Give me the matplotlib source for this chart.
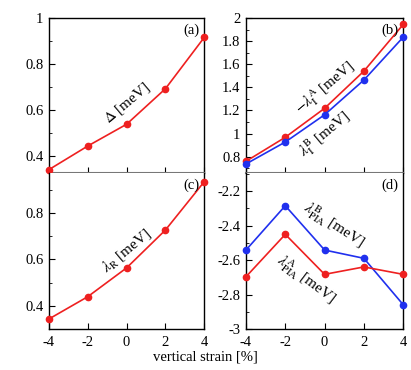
import numpy as np
import matplotlib
matplotlib.use("Agg")
import matplotlib.pyplot as plt
from matplotlib.ticker import MultipleLocator, FuncFormatter

plt.rcParams['font.family'] = ['Liberation Serif', 'DejaVu Serif']
plt.rcParams['mathtext.fontset'] = 'stix'
plt.rcParams['axes.unicode_minus'] = False

# data
strain = [-4, -2, 0, 2, 4]
delta = [0.339, 0.442, 0.537, 0.692, 0.916]
lam_I_A = [0.760, 0.968, 1.219, 1.541, 1.945]   # -lambda_I^A
lam_I_B = [0.737, 0.927, 1.163, 1.464, 1.835]
lam_R = [0.343, 0.439, 0.563, 0.726, 0.934]
lam_PIA_B = [-2.542, -2.285, -2.542, -2.590, -2.859]
lam_PIA_A = [-2.697, -2.451, -2.683, -2.640, -2.683]

red = '#ee2020'
blue = '#2030ee'

fig = plt.figure(figsize=(4.11, 3.70), dpi=100)
l1, r1 = 0.119, 0.497
l2, r2 = 0.5985, 0.981
top, mid, bot = 0.951, 0.5316, 0.1108
axa = fig.add_axes([l1, mid, r1 - l1, top - mid])
axb = fig.add_axes([l2, mid, r2 - l2, top - mid])
axc = fig.add_axes([l1, bot, r1 - l1, mid - bot])
axd = fig.add_axes([l2, bot, r2 - l2, mid - bot])

kw = dict(marker='o', ms=4.5, lw=1.2, clip_on=False, zorder=3)
axa.plot(strain, delta, color=red, **kw)
axb.plot(strain, lam_I_A, color=red, **kw)
axb.plot(strain, lam_I_B, color=blue, **kw)
axc.plot(strain, lam_R, color=red, **kw)
axd.plot(strain, lam_PIA_B, color=blue, **kw)
axd.plot(strain, lam_PIA_A, color=red, **kw)

axa.set_ylim(0.323, 1.0)
axb.set_ylim(0.656, 2.0)
axc.set_ylim(0.30, 0.97)
axd.set_ylim(-3.0, -2.097)

fmt = FuncFormatter(lambda v, p: '%g' % round(v, 3))
for ax in (axa, axb, axc, axd):
    ax.set_xlim(-4, 4)
    ax.set_xticks(strain)
    ax.yaxis.set_major_locator(MultipleLocator(0.2))
    ax.yaxis.set_minor_locator(MultipleLocator(0.1))
    ax.yaxis.set_major_formatter(fmt)
    ax.tick_params(direction='in', labelsize=10.5, length=4, width=0.8, pad=4)
    ax.tick_params(which='minor', direction='in', length=2, width=0.6)
    for s in ax.spines.values():
        s.set_linewidth(1.0)

for ax in (axa, axb):
    ax.tick_params(labelbottom=False)
    ax.spines['bottom'].set_color('#777777')
    ax.spines['bottom'].set_linewidth(1.5)
for ax in (axc, axd):
    ax.spines['top'].set_visible(False)
    ax.tick_params(axis='x', pad=5)

for ax, lab in zip((axa, axb, axc, axd), ['(a)', '(b)', '(c)', '(d)']):
    ax.text(0.97, 0.965, lab, transform=ax.transAxes, ha='right', va='top', fontsize=10.5)

axa.text(0.50, 0.453, r'$\Delta$ [meV]', transform=axa.transAxes, rotation=40,
         ha='center', va='center', fontsize=11)
axb.text(0.50, 0.55, r'$-\lambda_{\rm I}^{\rm A}$ [meV]', transform=axb.transAxes, rotation=40,
         ha='center', va='center', fontsize=11)
axb.text(0.50, 0.25, r'$\lambda_{\rm I}^{\rm B}$ [meV]', transform=axb.transAxes, rotation=40,
         ha='center', va='center', fontsize=11)
axc.text(0.50, 0.507, r'$\lambda_{\rm R}$ [meV]', transform=axc.transAxes, rotation=40,
         ha='center', va='center', fontsize=11)
axd.text(0.56, 0.668, r'$\lambda_{\rm PIA}^{\rm B}$ [meV]', transform=axd.transAxes, rotation=-33,
         ha='center', va='center', fontsize=11)
axd.text(0.38, 0.32, r'$\lambda_{\rm PIA}^{\rm A}$ [meV]', transform=axd.transAxes, rotation=-37,
         ha='center', va='center', fontsize=11)

fig.text(0.5, 0.036, 'vertical strain [%]', ha='center', va='center', fontsize=10.5)

fig.savefig('out.png', dpi=100)
